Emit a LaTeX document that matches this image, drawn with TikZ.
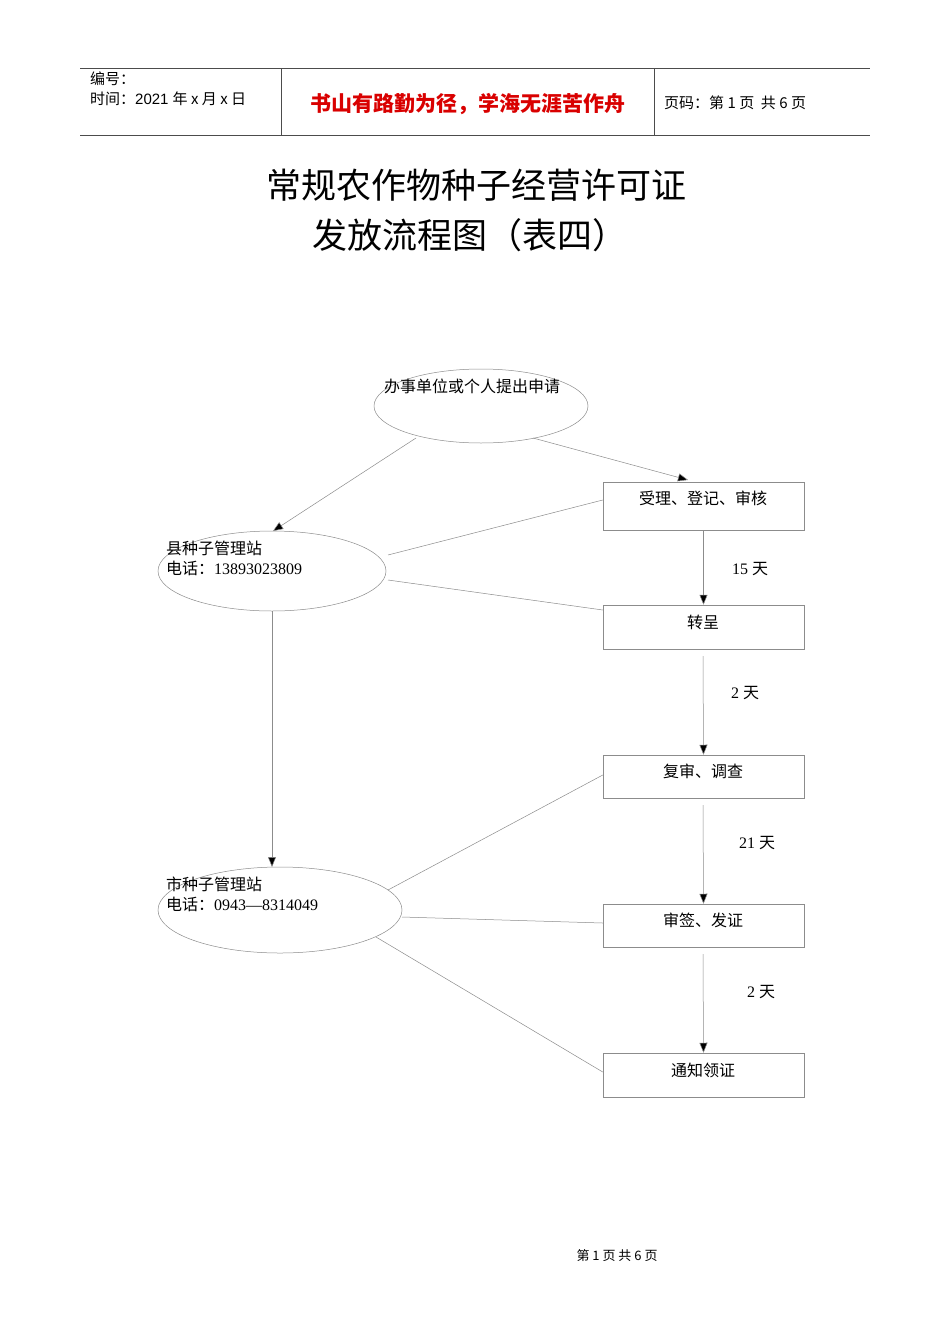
\documentclass[tikz,border=0pt]{standalone}
\usepackage{fontspec}
\setmainfont{Liberation Serif}
\newfontfamily\cjk{Noto Sans CJK SC}
\newfontfamily\hdr{Liberation Sans}
\usetikzlibrary{arrows.meta,shapes.geometric,calc}
\begin{document}
\begin{tikzpicture}[x=1pt,y=-1pt,
  ln/.style={draw=black!45,line width=0.5pt},
  arr/.style={ln,-{Triangle[length=10pt,width=8pt,fill=black]}},
  bx/.style={draw=black!45,line width=0.5pt,minimum width=201pt,inner sep=0pt},
  el/.style={draw=black!45,line width=0.5pt,ellipse,inner sep=0pt},
  t/.style={font=\cjk\fontsize{16}{19}\selectfont,inner sep=0pt},
  h/.style={font=\cjk\fontsize{15}{18}\selectfont,inner sep=0pt,anchor=west}]
\useasboundingbox (0,0) rectangle (950,1344);
\fill[white] (0,0) rectangle (950,1344);
% header
\draw[black!70,line width=0.6pt] (80,68)--(870,68) (80,135)--(870,135) (281,68)--(281,135) (654,68)--(654,135);
\node[h] (h1) at (90,79) {编号：};
\node[h] (h2) at (90,99) {时间：\hdr 2021 \cjk 年 x 月 x 日};
\node[font=\cjk\bfseries\fontsize{21}{25}\selectfont,text=red!85!black,inner sep=0pt] (h3) at (468,104) {书山有路勤为径，学海无涯苦作舟};
\node[h] (h4) at (664,103) {页码：第 1 页\ \ 共 6 页};
% title
\node[font=\cjk\fontsize{35}{42}\selectfont,inner sep=0pt] (t1) at (476,185) {常规农作物种子经营许可证};
\node[font=\cjk\fontsize{35}{42}\selectfont,inner sep=0pt] (t2) at (470,235) {发放流程图（表四）};
% shapes
\node[el,minimum width=214pt,minimum height=74pt] (e1) at (481,406) {};
\node[t] (e1t) at (472,386) {办事单位或个人提出申请};
\node[el,minimum width=228pt,minimum height=80pt] (e2) at (272,571) {};
\node[t,anchor=west] (e2a) at (166,548) {县种子管理站};
\node[t,anchor=west] (e2b) at (166,568) {电话：\rmfamily 13893023809};
\node[el,minimum width=244pt,minimum height=86pt] (e3) at (280,910) {};
\node[t,anchor=west] (e3a) at (166,884) {市种子管理站};
\node[t,anchor=west] (e3b) at (166,904) {电话：\rmfamily 0943—8314049};
\node[bx,minimum height=48pt] (b1) at (703.5,506) {};
\node[t] (b1t) at (703,498) {受理、登记、审核};
\node[bx,minimum height=44pt] (b2) at (703.5,627) {};
\node[t] (b2t) at (703,622) {转呈};
\node[bx,minimum height=43pt] (b3) at (703.5,776.5) {};
\node[t] (b3t) at (703,771) {复审、调查};
\node[bx,minimum height=43pt] (b4) at (703.5,925.5) {};
\node[t] (b4t) at (703,920) {审签、发证};
\node[bx,minimum height=44pt] (b5) at (703.5,1075) {};
\node[t] (b5t) at (703,1070) {通知领证};
% coordinates
\coordinate (a1) at (416,438); \coordinate (a1e) at (273,531);
\coordinate (a2) at (533,438); \coordinate (a2e) at (688,480);
\coordinate (c2) at (703,656); \coordinate (c3) at (703,805); \coordinate (c4) at (703,954);
\coordinate (l1) at (388,555); \coordinate (l2) at (388,580);
\coordinate (l3) at (388,890); \coordinate (l4) at (402,917); \coordinate (l5) at (376,937);
\draw[arr] (a1)--(a1e);
\draw[arr] (a2)--(a2e);
\draw[arr] (b1.south)--(b2.north);
\draw[arr] (c2)--(b3.north);
\draw[arr] (c3)--(b4.north);
\draw[arr] (c4)--(b5.north);
\draw[arr] (e2.south)--(272,867) coordinate (e3top);
\draw[ln] (l1)--($(b1.west)+(0,-6)$);
\draw[ln] (l2)--($(b2.west)+(0,-17)$);
\draw[ln] (l3)--($(b3.west)+(0,-1.5)$);
\draw[ln] (l4)--($(b4.west)+(0,-2.5)$);
\draw[ln] (l5)--($(b5.west)+(0,-3)$);
\node[t] (d1) at (750,569) {\rmfamily 15 \cjk 天};
\node[t] (d2) at (745,693) {\rmfamily 2 \cjk 天};
\node[t] (d3) at (757,843) {\rmfamily 21 \cjk 天};
\node[t] (d4) at (761,992) {\rmfamily 2 \cjk 天};
\node[font=\cjk\fontsize{13}{15}\selectfont,inner sep=0pt] (f) at (617,1256) {第 1 页 共 6 页};
\end{tikzpicture}
\end{document}
